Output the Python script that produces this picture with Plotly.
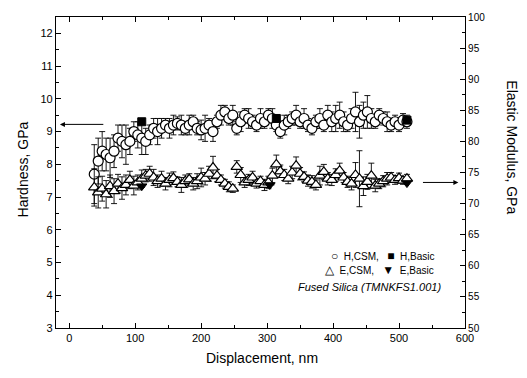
import plotly.graph_objects as go

disp = [38, 44, 50, 56, 62, 68, 74, 80, 86, 92,
        98, 104, 110, 116, 122, 128, 134, 140, 146, 152,
        158, 164, 170, 176, 182, 188, 194, 200, 206, 212,
        218, 224, 230, 236, 242, 248, 254, 260, 266, 272,
        278, 284, 290, 296, 302, 308, 314, 320, 326, 332,
        338, 344, 350, 356, 362, 368, 374, 380, 386, 392,
        398, 404, 410, 416, 422, 428, 434, 440, 446, 452,
        458, 464, 470, 476, 482, 488, 494, 500, 506, 512]

h_csm = [7.7, 8.1, 8.4, 8.3, 8.2, 8.4, 8.8, 8.7, 8.6, 8.7,
         9.0, 8.9, 8.8, 8.7, 8.9, 9.1, 9.0, 9.1, 9.2, 9.1,
         9.2, 9.25, 9.2, 9.1, 9.2, 9.3, 9.1, 9.05, 9.1, 9.2,
         9.0, 9.3, 9.5, 9.6, 9.4, 9.5, 9.1, 9.3, 9.5, 9.4,
         9.3, 9.2, 9.4, 9.3, 9.5, 9.4, 9.2, 9.0, 9.2, 9.3,
         9.4, 9.5, 9.3, 9.4, 9.2, 9.1, 9.3, 9.4, 9.2, 9.5,
         9.3, 9.4, 9.5, 9.3, 9.2, 9.4, 9.6, 9.3, 9.5, 9.6,
         9.4, 9.3, 9.5, 9.4, 9.3, 9.2, 9.3, 9.2, 9.35, 9.3]

h_err = [0.9, 0.7, 0.6, 0.5, 0.6, 0.5, 0.4, 0.5, 0.6, 0.4,
         0.3, 0.4, 0.5, 0.4, 0.3, 0.3, 0.4, 0.3, 0.2, 0.3,
         0.3, 0.2, 0.3, 0.2, 0.3, 0.2, 0.2, 0.3, 0.4, 0.2,
         0.3, 0.2, 0.3, 0.2, 0.2, 0.3, 0.2, 0.3, 0.2, 0.3,
         0.2, 0.2, 0.3, 0.2, 0.2, 0.3, 0.2, 0.2, 0.3, 0.2,
         0.2, 0.3, 0.2, 0.3, 0.2, 0.2, 0.2, 0.3, 0.2, 0.3,
         0.3, 0.4, 0.4, 0.3, 0.2, 0.3, 0.6, 0.5, 0.4, 0.5,
         0.3, 0.2, 0.2, 0.2, 0.3, 0.2, 0.2, 0.2, 0.2, 0.2]

e_csm = [72.6, 71.8, 72.4, 71.5, 72.8, 72.0, 73.2, 72.5, 73.0, 73.8,
         72.9, 73.4, 74.0, 74.5, 74.8, 74.2, 73.6, 74.0, 73.2, 73.8,
         74.1, 73.5, 73.0, 73.6, 73.9, 73.2, 73.6, 74.2, 74.0, 74.8,
         75.8, 74.5, 73.8, 73.2, 72.7, 72.4, 75.9, 74.6, 73.4, 73.8,
         74.2, 73.2, 73.6, 73.0, 73.4, 74.5, 76.3, 75.2, 74.6, 74.0,
         75.0, 76.1, 74.8, 74.3, 73.7, 73.5, 73.0, 74.5, 75.1, 74.0,
         73.8, 74.6, 75.3, 74.2, 73.5, 73.2, 74.6, 74.0, 72.8, 73.5,
         74.5, 72.9, 73.2, 73.6, 74.0, 74.2, 73.8, 74.1, 73.7, 74.0]

e_err = [3.0, 2.5, 2.0, 2.2, 1.8, 2.0, 1.5, 1.8, 1.6, 1.4,
         1.5, 1.2, 1.4, 1.0, 1.2, 1.3, 1.0, 1.2, 1.0, 1.1,
         1.0, 0.8, 1.2, 1.0, 0.9, 1.0, 1.2, 1.5, 1.0, 1.2,
         1.8, 1.0, 0.8, 0.7, 0.8, 0.6, 1.0, 1.2, 0.8, 0.9,
         1.0, 0.7, 0.8, 0.9, 1.0, 1.2, 1.5, 1.0, 0.9, 0.8,
         1.0, 1.4, 1.0, 0.8, 0.9, 1.0, 0.8, 1.5, 1.2, 1.0,
         0.9, 1.0, 1.2, 0.8, 0.9, 1.0, 2.0, 4.5, 1.5, 1.2,
         2.0, 1.0, 0.8, 0.9, 1.0, 0.8, 0.7, 0.8, 0.6, 0.7]

basic_h_disp = [110, 314, 512]
h_basic = [9.3, 9.4, 9.35]
basic_e_disp = [110, 304, 512]
e_basic = [72.8, 73.0, 73.3]

font_main = "Liberation Sans, Arial, sans-serif"

fig = go.Figure()

fig.add_trace(go.Scatter(
    x=disp, y=e_csm, yaxis="y2", mode="markers", name="E,CSM",
    marker=dict(symbol="triangle-up", size=10, color="white",
                line=dict(color="black", width=1.2)),
    error_y=dict(type="data", array=e_err, color="black", thickness=0.9, width=3),
))
fig.add_trace(go.Scatter(
    x=basic_e_disp, y=e_basic, yaxis="y2", mode="markers", name="E,Basic",
    marker=dict(symbol="triangle-down", size=9, color="black",
                line=dict(color="black", width=1)),
))
fig.add_trace(go.Scatter(
    x=disp, y=h_csm, mode="markers", name="H,CSM",
    marker=dict(symbol="circle", size=10, color="white",
                line=dict(color="black", width=1.2)),
    error_y=dict(type="data", array=h_err, color="black", thickness=0.9, width=3),
))
fig.add_trace(go.Scatter(
    x=basic_h_disp, y=h_basic, mode="markers", name="H,Basic",
    marker=dict(symbol="square", size=8, color="black",
                line=dict(color="black", width=1)),
))

sym = "<span style='font-size:12px'>%s</span>"
annotations = [
    dict(x=-14, y=9.22, ax=54, ay=9.22, xref="x", yref="y", axref="x", ayref="y",
         showarrow=True, arrowhead=2, arrowsize=1, arrowwidth=1, arrowcolor="black", text=""),
    dict(x=590, y=73.4, ax=534, ay=73.4, xref="x", yref="y2", axref="x", ayref="y2",
         showarrow=True, arrowhead=2, arrowsize=1, arrowwidth=1, arrowcolor="black", text=""),
    dict(text="Hardness, GPa", xref="paper", yref="paper", x=-0.105, y=0.51,
         textangle=-90, showarrow=False, font=dict(size=14, family=font_main, color="black")),
    dict(text="Elastic Modulus, GPa", xref="paper", yref="paper", x=1.14, y=0.58,
         textangle=90, showarrow=False, font=dict(size=14, family=font_main, color="black")),
    dict(text="Displacement, nm", xref="paper", yref="paper", x=0.504, y=-0.13,
         showarrow=False, font=dict(size=14, family=font_main, color="black")),
    dict(text=(sym % "○") + "  H,CSM,   " + (sym % "■") + "  H,Basic", xref="paper", yref="paper",
         x=0.93, y=(328-264)/317, xanchor="right", showarrow=False,
         font=dict(size=10, family=font_main, color="black")),
    dict(text=(sym % "△") + "  E,CSM,   " + (sym % "▼") + "  E,Basic", xref="paper", yref="paper",
         x=0.93, y=(328-278)/317, xanchor="right", showarrow=False,
         font=dict(size=10, family=font_main, color="black")),
    dict(text="<i>Fused Silica (TMNKFS1.001)</i>", xref="paper", yref="paper", x=0.945, y=(328-294)/317,
         xanchor="right", showarrow=False, font=dict(size=11, family=font_main, color="black")),
]

fig.update_layout(
    width=527, height=378,
    margin=dict(l=56, r=62, t=11, b=50),
    paper_bgcolor="white", plot_bgcolor="white",
    showlegend=False,
    font=dict(family=font_main, size=11, color="black"),
    xaxis=dict(range=[-20, 600], tickvals=[0, 100, 200, 300, 400, 500, 600],
               ticks="inside", ticklen=5, tickwidth=1, tickcolor="black",
               minor=dict(ticks="inside", dtick=50, tick0=0, ticklen=3, tickcolor="black"),
               showline=True, linecolor="black", linewidth=1.2, mirror="ticks",
               showgrid=False, zeroline=False, tickfont=dict(size=11)),
    yaxis=dict(range=[3, 12.5], dtick=1, tick0=3,
               ticks="inside", ticklen=5, tickwidth=1, tickcolor="black",
               minor=dict(ticks="inside", dtick=0.5, tick0=3, ticklen=3, tickcolor="black"),
               showline=True, linecolor="black", linewidth=1.2,
               showgrid=False, zeroline=False, tickfont=dict(size=11)),
    yaxis2=dict(range=[50, 100], dtick=5, tick0=50, overlaying="y", side="right",
                ticks="inside", ticklen=5, tickwidth=1, tickcolor="black",
                minor=dict(ticks="inside", dtick=2.5, tick0=50, ticklen=3, tickcolor="black"),
                showline=True, linecolor="black", linewidth=1.2,
                showgrid=False, zeroline=False, tickfont=dict(size=10)),
    annotations=annotations,
)

fig.write_html("out.html")
